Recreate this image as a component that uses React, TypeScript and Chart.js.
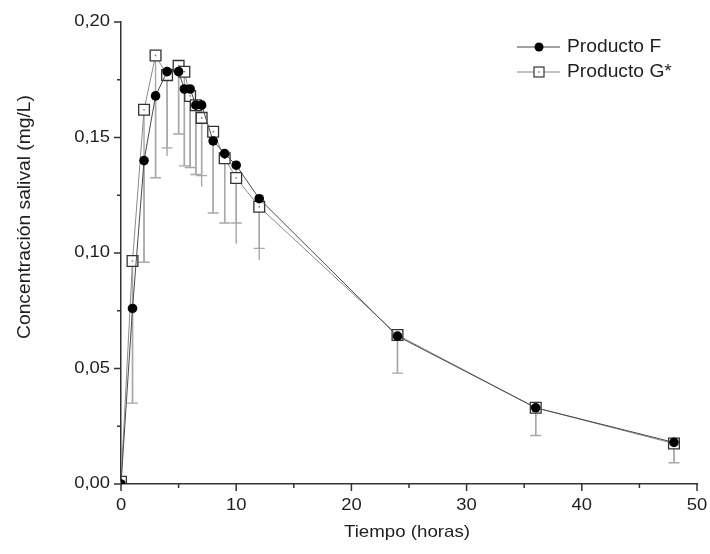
import React, { useEffect, useRef } from 'react';
import { Chart, registerables } from 'chart.js';

Chart.register(...registerables);

// Time points (hours)
const hours = [0, 1, 2, 3, 4, 5, 5.5, 6, 6.5, 7, 8, 9, 10, 12, 24, 36, 48];
// Mean salivary concentration (mg/L)
const productoF = [0, 0.076, 0.14, 0.168, 0.1785, 0.1785, 0.171, 0.171, 0.164, 0.164, 0.1485, 0.143, 0.138, 0.1235, 0.064, 0.033, 0.018];
const productoG = [0.001, 0.0965, 0.162, 0.1855, 0.177, 0.181, 0.1785, 0.168, 0.164, 0.1585, 0.1525, 0.141, 0.1325, 0.12, 0.0645, 0.033, 0.0175];
// Lower ends of the error bars
const lowF = [0, 0.035, 0.096, 0.1326, 0.1455, 0.1515, 0.1377, 0.137, 0.134, 0.1335, 0.1173, 0.113, 0.113, 0.102, 0.048, 0.021, 0.0092];
const lowG = [0, 0.035, 0.096, 0.1326, 0.142, 0.1515, 0.1377, 0.137, 0.134, 0.1287, 0.1173, 0.113, 0.104, 0.097, 0.048, 0.021, 0.0092];

const xMinorTicks = [5, 15, 25, 35, 45];
const yMinorTicks = [0.025, 0.075, 0.125, 0.175];

const seriesNames = ['Producto F', 'Producto G*'];
const yTitle = 'Concentración salival (mg/L)';
const xTitle = 'Tiempo (horas)';

const FONT = "'Liberation Sans', Arial, sans-serif";
const TEXT = '#1e1e1e';
const AXIS = '#333';

function stretchText(ctx: any, text: string, x: number, y: number, size: number, sx: number, align: string, rot = 0) {
  ctx.save();
  ctx.translate(x, y);
  if (rot) ctx.rotate(rot);
  ctx.scale(sx, 1);
  ctx.font = `${size}px ${FONT}`;
  ctx.textAlign = align;
  ctx.textBaseline = 'middle';
  ctx.fillStyle = TEXT;
  ctx.fillText(text, 0, 0);
  ctx.restore();
}

const errorBarPlugin = {
  id: 'errorBars',
  beforeDatasetsDraw(chart: any) {
    const { ctx } = chart;
    const yScale = chart.scales.y;
    const lows = [lowF, lowG];
    ctx.save();
    ctx.strokeStyle = '#a8a8a8';
    ctx.lineWidth = 1.4;
    [1, 0].forEach((di) => {
      const meta = chart.getDatasetMeta(di);
      meta.data.forEach((pt: any, j: number) => {
        const yb = yScale.getPixelForValue(lows[di][j]);
        if (Math.abs(yb - pt.y) < 1) return;
        ctx.beginPath();
        ctx.moveTo(pt.x, pt.y);
        ctx.lineTo(pt.x, yb);
        if (di === 0) {
          ctx.moveTo(pt.x - 5.5, yb);
          ctx.lineTo(pt.x + 5.5, yb);
        }
        ctx.stroke();
      });
    });
    ctx.restore();
  },
};

const squareDotPlugin = {
  id: 'squareDots',
  afterDatasetDraw(chart: any, args: any) {
    if (args.index !== 1) return;
    const { ctx } = chart;
    ctx.save();
    ctx.fillStyle = '#777';
    args.meta.data.forEach((pt: any) => {
      ctx.fillRect(pt.x - 0.75, pt.y - 0.75, 1.5, 1.5);
    });
    ctx.restore();
  },
};

const decorPlugin = {
  id: 'decor',
  afterDraw(chart: any) {
    const { ctx, chartArea } = chart;
    const xs = chart.scales.x;
    const ys = chart.scales.y;
    ctx.save();
    ctx.strokeStyle = AXIS;
    ctx.lineWidth = 1.5;
    ctx.beginPath();
    xs.ticks.forEach((t: any) => {
      const x = xs.getPixelForValue(t.value);
      ctx.moveTo(x, chartArea.bottom);
      ctx.lineTo(x, chartArea.bottom + 7);
    });
    xMinorTicks.forEach((v) => {
      const x = xs.getPixelForValue(v);
      ctx.moveTo(x, chartArea.bottom);
      ctx.lineTo(x, chartArea.bottom + 4);
    });
    ys.ticks.forEach((t: any) => {
      const y = ys.getPixelForValue(t.value);
      ctx.moveTo(chartArea.left, y);
      ctx.lineTo(chartArea.left - 7, y);
    });
    yMinorTicks.forEach((v) => {
      const y = ys.getPixelForValue(v);
      ctx.moveTo(chartArea.left, y);
      ctx.lineTo(chartArea.left - 4, y);
    });
    ctx.stroke();

    // tick labels (positions from the chart's scales)
    xs.ticks.forEach((t: any) => {
      const x = xs.getPixelForValue(t.value);
      stretchText(ctx, String(t.value), x, chartArea.bottom + 22, 16, 1.15, 'center');
    });
    ys.ticks.forEach((t: any) => {
      const y = ys.getPixelForValue(t.value);
      stretchText(ctx, Number(t.value).toFixed(2).replace('.', ','), chartArea.left - 11, y, 16, 1.15, 'right');
    });

    // axis titles
    stretchText(ctx, xTitle, (chartArea.left + chartArea.right) / 2 - 2, 532, 17, 1.1, 'center');
    stretchText(ctx, yTitle, 25, 217, 17.5, 1.1, 'center', -Math.PI / 2);

    // legend
    const lx0 = 517, lx1 = 560, mx = 539;
    const rows = [47, 72];
    ctx.lineWidth = 1;
    ctx.strokeStyle = '#444';
    ctx.beginPath();
    ctx.moveTo(lx0, rows[0]);
    ctx.lineTo(lx1, rows[0]);
    ctx.stroke();
    ctx.fillStyle = '#000';
    ctx.beginPath();
    ctx.arc(mx, rows[0], 4.5, 0, Math.PI * 2);
    ctx.fill();
    ctx.strokeStyle = '#888';
    ctx.beginPath();
    ctx.moveTo(lx0, rows[1]);
    ctx.lineTo(lx1, rows[1]);
    ctx.stroke();
    ctx.fillStyle = '#fff';
    ctx.fillRect(mx - 5, rows[1] - 5, 10, 10);
    ctx.strokeStyle = '#333';
    ctx.lineWidth = 1.2;
    ctx.strokeRect(mx - 5, rows[1] - 5, 10, 10);
    ctx.fillStyle = '#777';
    ctx.fillRect(mx - 0.75, rows[1] - 0.75, 1.5, 1.5);

    stretchText(ctx, seriesNames[0], 567, rows[0], 17.5, 1.1, 'left');
    stretchText(ctx, seriesNames[1], 567, rows[1], 17.5, 1.1, 'left');
    ctx.restore();
  },
};

export default function App() {
  const ref = useRef<HTMLCanvasElement | null>(null);

  useEffect(() => {
    if (!ref.current) return;
    const chart = new Chart(ref.current, {
      type: 'line',
      data: {
        datasets: [
          {
            label: seriesNames[0],
            data: hours.map((h, i) => ({ x: h, y: productoF[i] })),
            borderColor: '#4a4a4a',
            borderWidth: 1,
            backgroundColor: '#000',
            pointBackgroundColor: '#000',
            pointBorderColor: '#000',
            pointRadius: 4.8,
            pointBorderWidth: 0,
            pointStyle: 'circle',
            tension: 0,
          },
          {
            label: seriesNames[1],
            data: hours.map((h, i) => ({ x: h, y: productoG[i] })),
            borderColor: '#8a8a8a',
            borderWidth: 1,
            backgroundColor: '#fff',
            pointBackgroundColor: '#fff',
            pointBorderColor: '#333',
            pointRadius: 7.6,
            pointBorderWidth: 1.3,
            pointStyle: 'rect',
            tension: 0,
          },
        ],
      },
      options: {
        animation: false,
        responsive: false,
        maintainAspectRatio: false,
        layout: { padding: { left: 0, right: 13, top: 22, bottom: 0 } },
        plugins: {
          legend: { display: false },
          tooltip: { enabled: false },
        },
        scales: {
          x: {
            type: 'linear',
            min: 0,
            max: 50,
            grid: { display: true, drawOnChartArea: false, drawTicks: false },
            border: { display: true, color: AXIS, width: 1.5 },
            ticks: { stepSize: 10, display: false },
            afterFit: (s: any) => {
              s.height = 70;
            },
          },
          y: {
            type: 'linear',
            min: 0,
            max: 0.2,
            grid: { display: true, drawOnChartArea: false, drawTicks: false },
            border: { display: true, color: AXIS, width: 1.5 },
            ticks: { stepSize: 0.05, display: false },
            afterFit: (s: any) => {
              s.width = 121;
            },
          },
        },
      },
      plugins: [errorBarPlugin, squareDotPlugin, decorPlugin],
    });
    return () => chart.destroy();
  }, []);

  return (
    <div style={{ position: 'fixed', left: 0, top: 0, width: 710, height: 554, background: '#fff' }}>
      <canvas ref={ref} width={710} height={554} style={{ display: 'block' }} />
    </div>
  );
}
